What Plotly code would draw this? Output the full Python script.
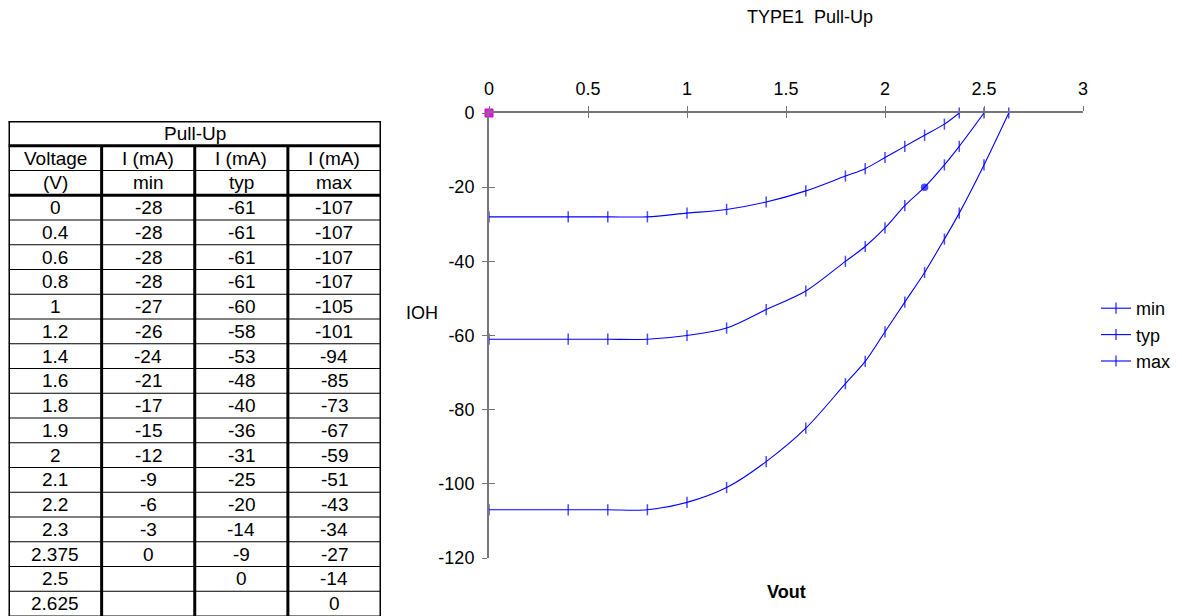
import plotly.graph_objects as go

# ---------------- data ----------------
voltage = [0, 0.4, 0.6, 0.8, 1, 1.2, 1.4, 1.6, 1.8, 1.9, 2, 2.1, 2.2, 2.3, 2.375, 2.5, 2.625]
voltage_labels = ["0", "0.4", "0.6", "0.8", "1", "1.2", "1.4", "1.6", "1.8", "1.9", "2",
                  "2.1", "2.2", "2.3", "2.375", "2.5", "2.625"]
i_min = [-28, -28, -28, -28, -27, -26, -24, -21, -17, -15, -12, -9, -6, -3, 0, None, None]
i_typ = [-61, -61, -61, -61, -60, -58, -53, -48, -40, -36, -31, -25, -20, -14, -9, 0, None]
i_max = [-107, -107, -107, -107, -105, -101, -94, -85, -73, -67, -59, -51, -43, -34, -27, -14, 0]
series_names = ["min", "typ", "max"]
header_row1 = ["Voltage", "I (mA)", "I (mA)", "I (mA)"]
header_row2 = ["(V)", "min", "typ", "max"]
table_title = "Pull-Up"
chart_title = "TYPE1  Pull-Up"
x_ticks = [0, 0.5, 1, 1.5, 2, 2.5, 3]
y_ticks = [0, -20, -40, -60, -80, -100, -120]
x_title = "Vout"
y_title = "IOH"

# ---------------- figure ----------------
W, H = 1182, 616
OFF = 8  # page body margin offset
FONT = "Liberation Sans, Arial, sans-serif"
FS = 18
FS_TAB = 19
BLUE = "#0000FF"
AX = "#777777"


def px(x):
    return (x - OFF) / W


def py(y):
    return 1 - (y - OFF) / H


fig = go.Figure()

series = [i_min, i_typ, i_max]
for name, vals in zip(series_names, series):
    xs = [v for v, y in zip(voltage, vals) if y is not None]
    ys = [y for y in vals if y is not None]
    symbols = ["line-ns"] * len(xs)
    sizes = [8] * len(xs)
    if name == "typ":
        k = xs.index(2.2)
        symbols[k] = "circle"
        sizes[k] = 6
    fig.add_trace(go.Scatter(
        x=xs, y=ys, name=name, mode="lines+markers",
        line=dict(color=BLUE, width=1.1, shape="spline", smoothing=0.9),
        marker=dict(symbol=symbols, size=sizes, color=BLUE,
                    line=dict(color=BLUE, width=1.5)),
        cliponaxis=False,
    ))

# magenta marker at origin
fig.add_trace(go.Scatter(
    x=[voltage[0]], y=[0], mode="markers", showlegend=False,
    marker=dict(symbol="square", size=8, color="#FF00FF",
                line=dict(color="#CC00CC", width=1)),
    cliponaxis=False,
))

# invisible traces to register overlay / table axes
fig.add_trace(go.Scatter(x=[None], y=[None], xaxis="x3", yaxis="y3", showlegend=False))
fig.add_trace(go.Scatter(x=[None], y=[None], xaxis="x2", yaxis="y2", showlegend=False))

x0p, x1p = 489, 1083
ytop, ybot = 113, 558
xdom = [px(x0p), px(x1p)]
ydom = [py(ybot), py(ytop)]

fig.update_layout(
    width=W, height=H,
    margin=dict(l=0, r=0, t=0, b=0),
    paper_bgcolor="white", plot_bgcolor="white",
    font=dict(family=FONT, size=FS, color="black"),
    showlegend=True,
    legend=dict(x=px(1096), y=py(290), xanchor="left", yanchor="top",
                bgcolor="rgba(0,0,0,0)", font=dict(size=FS), itemwidth=30,
                tracegroupgap=0),
    xaxis=dict(domain=xdom, range=[0, 3], side="top", anchor="y",
               tickvals=x_ticks, ticktext=[str(t) for t in x_ticks],
               showline=True, linecolor=AX, linewidth=2,
               ticks="outside", ticklen=5, tickwidth=1, tickcolor=AX,
               showgrid=False, zeroline=False, automargin=False,
               ticklabelstandoff=4),
    yaxis=dict(domain=ydom, range=[-120, 0], anchor="x",
               tickvals=y_ticks, ticktext=[str(t) for t in y_ticks],
               showline=True, linecolor=AX, linewidth=2,
               ticks="outside", ticklen=5, tickwidth=1, tickcolor=AX,
               showgrid=False, zeroline=False, automargin=False,
               ticklabelstandoff=4),
    xaxis3=dict(domain=xdom, range=[0, 3], overlaying="x", side="top", anchor="y3",
                tickvals=x_ticks, showticklabels=False, showline=False,
                ticks="inside", ticklen=5, tickwidth=1, tickcolor=AX,
                showgrid=False, zeroline=False, automargin=False),
    yaxis3=dict(domain=ydom, range=[-120, 0], overlaying="y", anchor="x3",
                tickvals=y_ticks, showticklabels=False, showline=False,
                ticks="inside", ticklen=6, tickwidth=1, tickcolor=AX,
                showgrid=False, zeroline=False, automargin=False),
)

# ---------------- table (drawn on hidden axes x2/y2) ----------------
tab_left, tab_right, tab_top = 8.5, 381, 121
n_rows = 3 + len(voltage)
row_h = 24.75
tab_bottom = tab_top + n_rows * row_h
top_paper = py(tab_top)
bottom_paper = py(tab_bottom)
if bottom_paper < 0:
    frac = top_paper / (top_paper - bottom_paper)
    y2_dom, y2_rng = [0, top_paper], [n_rows * frac, 0]
else:
    y2_dom, y2_rng = [bottom_paper, top_paper], [n_rows, 0]
fig.update_layout(
    xaxis2=dict(domain=[px(tab_left), px(tab_right)], range=[0, 4], visible=False,
                anchor="y2", fixedrange=True),
    yaxis2=dict(domain=y2_dom, range=y2_rng, visible=False, anchor="x2", fixedrange=True),
)

shapes = []


def hline(y, w):
    shapes.append(dict(type="line", xref="x2", yref="y2", x0=0, x1=4, y0=y, y1=y,
                       line=dict(color="black", width=w)))


def vline(x, y0, y1, w):
    shapes.append(dict(type="line", xref="x2", yref="y2", x0=x, x1=x, y0=y0, y1=y1,
                       line=dict(color="black", width=w)))


for r in range(n_rows + 1):
    w = 3 if r in (0, 1, 3) else 1
    hline(r, w)
vline(0, 0, n_rows, 3)
vline(4, 0, n_rows, 3)
for c in (1, 2, 3):
    vline(c, 1, n_rows, 3)

annotations = []


def cell(col, row, text, span=False):
    annotations.append(dict(xref="x2", yref="y2", x=2 if span else col + 0.5, y=row + 0.5,
                            text=text, showarrow=False, xanchor="center", yanchor="middle",
                            font=dict(size=FS_TAB, family=FONT, color="black")))


cell(0, 0, table_title, span=True)
for c, t in enumerate(header_row1):
    cell(c, 1, t)
for c, t in enumerate(header_row2):
    cell(c, 2, t)
for r, lab in enumerate(voltage_labels):
    row = 3 + r
    cell(0, row, lab)
    for c, vals in enumerate(series, start=1):
        v = vals[r]
        cell(c, row, "" if v is None else str(v))

# chart labels
annotations.append(dict(xref="paper", yref="paper", x=px(810), y=py(17),
                        text=chart_title, showarrow=False, xanchor="center", yanchor="middle",
                        font=dict(size=FS)))
annotations.append(dict(xref="paper", yref="paper", x=px(786), y=py(592),
                        text="<b>" + x_title + "</b>", showarrow=False,
                        xanchor="center", yanchor="middle", font=dict(size=FS)))
annotations.append(dict(xref="paper", yref="paper", x=px(422), y=py(313),
                        text=y_title, showarrow=False, xanchor="center", yanchor="middle",
                        font=dict(size=FS)))

fig.update_layout(shapes=shapes, annotations=annotations)

fig.write_html("out.html")
